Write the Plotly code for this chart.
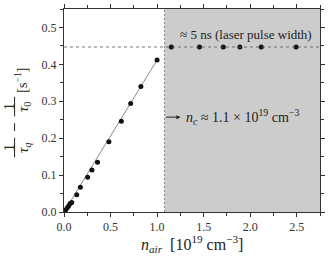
import plotly.graph_objects as go

# data
line_x = [0.005, 0.016, 0.034, 0.051, 0.066, 0.083, 0.137, 0.176, 0.254, 0.30, 0.36, 0.482, 0.616, 0.716, 0.826, 1.0]
line_y = [0.002, 0.005, 0.011, 0.017, 0.023, 0.026, 0.047, 0.067, 0.094, 0.114, 0.135, 0.190, 0.246, 0.294, 0.340, 0.412]
sat_x = [1.153, 1.455, 1.711, 1.889, 2.119, 2.493]
sat_y = [0.447, 0.447, 0.447, 0.447, 0.447, 0.447]
fit_x = [0.0, 1.0]
fit_y = [0.0, 0.412]
n_c = 1.08
sat_level = 0.447
x_range = [0, 2.75]
y_range = [0, 0.55]

W, H = 329, 257
L, R, T, B = 64, 6, 4, 45
PW, PH = W - L - R, H - T - B

def px(x):
    return (x - L) / PW

def py(y):
    return (H - B - y) / PH

SERIF = "Liberation Serif"
ink = "#222222"

fig = go.Figure()
fig.add_trace(go.Scatter(x=fit_x, y=fit_y, mode="lines",
                         line=dict(color="#8a8a8a", width=1), hoverinfo="skip"))
fig.add_trace(go.Scatter(x=line_x, y=line_y, mode="markers",
                         marker=dict(color="#111111", size=5)))
fig.add_trace(go.Scatter(x=sat_x, y=sat_y, mode="markers",
                         marker=dict(color="#111111", size=5)))

shapes = [
    dict(type="rect", xref="x", yref="y", x0=n_c, x1=x_range[1], y0=y_range[0], y1=y_range[1],
         fillcolor="#cccccc", line=dict(width=0), layer="below"),
    dict(type="line", xref="x", yref="y", x0=n_c, x1=n_c, y0=y_range[0], y1=y_range[1],
         line=dict(color="#888888", width=1, dash="2px,2px")),
    dict(type="line", xref="x", yref="y", x0=x_range[0], x1=x_range[1], y0=sat_level, y1=sat_level,
         line=dict(color="#555555", width=0.8, dash="3px,3px")),
]

# fraction bars for y title
for yc in (146, 104):
    shapes.append(dict(type="line", xref="paper", yref="paper",
                       x0=px(14), x1=px(14), y0=py(yc - 10), y1=py(yc + 10),
                       line=dict(color=ink, width=1)))
shapes.append(dict(type="line", xref="paper", yref="paper",
                   x0=px(14), x1=px(14), y0=py(121), y1=py(129),
                   line=dict(color=ink, width=1)))

ann = []
def yt(text, x, y, size=15):
    ann.append(dict(text=text, xref="paper", yref="paper", x=px(x), y=py(y),
                    showarrow=False, textangle=-90, xanchor="center", yanchor="middle",
                    font=dict(family=SERIF, size=size, color=ink)))

yt("1", 8, 146, size=15)
yt("<i>τ</i><sub><i>q</i></sub>", 23, 146)
yt("1", 8, 104, size=15)
yt("<i>τ</i><sub>0</sub>", 23, 104)
yt("[s<sup>−1</sup>]", 21, 77, size=14)

ann.append(dict(text="<i>n</i><sub><i>air</i></sub>  [10<sup>19</sup> cm<sup>−3</sup>]",
                xref="paper", yref="paper", x=px(193), y=py(245), showarrow=False,
                xanchor="center", yanchor="middle",
                font=dict(family=SERIF, size=16, color=ink)))
ann.append(dict(text="≈ 5 ns (laser pulse width)", xref="paper", yref="paper",
                x=px(248), y=py(30), showarrow=False, xanchor="center", yanchor="middle",
                font=dict(family=SERIF, size=13, color=ink)))
ann.append(dict(text="<i>n</i><sub><i>c</i></sub> ≈ 1.1 × 10<sup>19</sup> cm<sup>−3</sup>",
                xref="paper", yref="paper", x=px(185), y=py(115), showarrow=False,
                xanchor="left", yanchor="middle",
                font=dict(family=SERIF, size=14, color=ink)))
ann.append(dict(text="", xref="x", yref="y", x=1.25, y=0.257, ax=n_c, ay=0.257,
                axref="x", ayref="y", showarrow=True, arrowhead=2, arrowsize=0.8,
                arrowwidth=1, arrowcolor=ink))

axis_common = dict(showline=True, linecolor="#333333", linewidth=1, mirror="ticks",
                   ticks="outside", ticklen=4, tickwidth=1, tickcolor="#333333",
                   showgrid=False, zeroline=False,
                   tickfont=dict(family=SERIF, size=12, color="#333333"))

fig.update_layout(
    width=W, height=H, margin=dict(l=L, r=R, t=T, b=B),
    paper_bgcolor="white", plot_bgcolor="white", showlegend=False,
    shapes=shapes, annotations=ann,
    xaxis=dict(range=x_range, dtick=0.5, tick0=0, tickformat=".1f",
               minor=dict(dtick=0.25, ticks="outside", ticklen=3, tickcolor="#333333"),
               **axis_common),
    yaxis=dict(range=y_range, dtick=0.1, tick0=0, tickformat=".1f",
               minor=dict(dtick=0.05, ticks="outside", ticklen=3, tickcolor="#333333"),
               **axis_common),
)

fig.write_html("out.html", config={"displayModeBar": False},
               post_script="document.body.style.margin='0';document.body.style.overflow='hidden';")
